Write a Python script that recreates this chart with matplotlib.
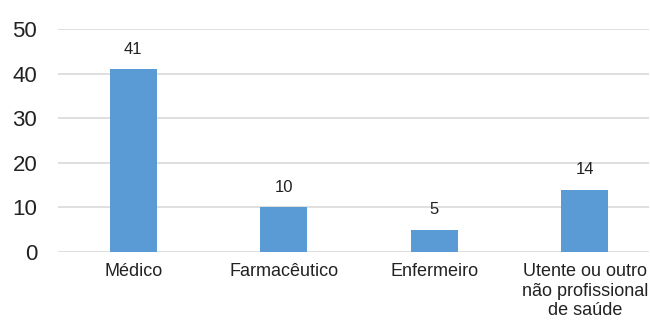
import matplotlib.pyplot as plt

plt.rcParams['font.family'] = ['Liberation Sans', 'DejaVu Sans']

# Dados
categorias = ["Médico", "Farmacêutico", "Enfermeiro",
              "Utente ou outro\nnão profissional\nde saúde"]
valores = [41, 10, 5, 14]

fig = plt.figure(figsize=(6.5, 3.25), dpi=100)
ax = fig.add_axes([58 / 650, 73 / 325, 591 / 650, 223 / 325])

x = range(len(categorias))
barras = ax.bar(x, valores, width=0.31, color="#5B9BD5", zorder=2)

# Rótulos de valor por cima das barras
for b, v in zip(barras, valores):
    ax.annotate(str(v), (b.get_x() + b.get_width() / 2, v),
                xytext=(0, 9), textcoords="offset points",
                ha="center", va="bottom", fontsize=12, color="#222222")

ax.set_ylim(0, 50)
ax.set_xlim(-0.5, 3.427)
ax.set_yticks(range(0, 51, 10))
ax.set_xticks(list(x))
ax.set_xticklabels(categorias, fontsize=13, color="#222222", linespacing=1.2)
ax.tick_params(axis="y", labelsize=16, length=0, pad=15, colors="#222222")
ax.tick_params(axis="x", length=0, pad=8)
ax.yaxis.grid(True, color="#D9D9D9", linewidth=1.2, zorder=0)
ax.set_axisbelow(True)
for s in ax.spines.values():
    s.set_visible(False)

plt.savefig("out.png")
